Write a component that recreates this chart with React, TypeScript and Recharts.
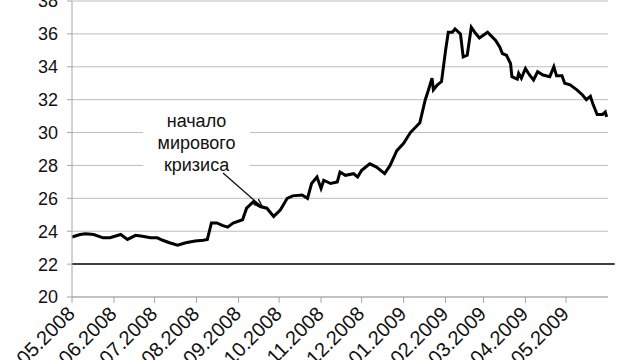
import {
  CartesianGrid,
  Line,
  LineChart,
  ReferenceArea,
  ReferenceLine,
  XAxis,
  YAxis,
} from "recharts";

// days since 01.05.2008 and the value
const dayOffsets = [
  0, 6, 10, 16, 23, 28, 36, 41, 47, 52, 58, 63, 67, 72, 78, 84, 91, 97, 100,
  103, 107, 111, 115, 119, 126, 129, 134, 139, 144, 149, 154, 159, 163, 170,
  174, 177, 181, 184, 186, 191, 196, 198, 202, 208, 211, 214, 220, 225, 231,
  235, 240, 245, 250, 257, 261, 263, 266, 267, 270, 273, 276, 278, 281, 283,
  287, 289, 292, 295, 298, 301, 307, 313, 316, 318, 321, 324, 325, 329, 330,
  332, 335, 338, 341, 344, 348, 353, 356, 358, 362, 364, 368, 373, 377, 380,
  383, 385, 388, 392, 394, 395,
];
const rates = [
  23.65, 23.8, 23.85, 23.8, 23.6, 23.6, 23.8, 23.5, 23.75, 23.7, 23.6, 23.6,
  23.45, 23.3, 23.15, 23.3, 23.4, 23.45, 23.5, 24.5, 24.5, 24.35, 24.25, 24.5,
  24.7, 25.4, 25.8, 25.5, 25.4, 24.9, 25.3, 26.0, 26.15, 26.2, 26.0, 26.9,
  27.3, 26.6, 27.1, 26.9, 27.0, 27.6, 27.4, 27.5, 27.3, 27.7, 28.1, 27.9, 27.5,
  28.0, 28.9, 29.35, 30.0, 30.6, 32.0, 32.5, 33.3, 32.6, 32.9, 33.1, 35.0,
  36.1, 36.1, 36.3, 36.0, 34.6, 34.7, 36.4, 36.05, 35.75, 36.1, 35.6, 35.2,
  34.8, 34.7, 34.2, 33.4, 33.25, 33.6, 33.3, 33.9, 33.5, 33.2, 33.7, 33.5,
  33.4, 34.0, 33.45, 33.45, 33.0, 32.9, 32.6, 32.3, 32.0, 32.2, 31.7, 31.1,
  31.1, 31.25, 30.95,
];

const monthTicks = [0, 31, 61, 92, 123, 153, 184, 214, 245, 276, 304, 335, 365];
const monthLabels = [
  "01.05.2008", "01.06.2008", "01.07.2008", "01.08.2008", "01.09.2008",
  "01.10.2008", "01.11.2008", "01.12.2008", "01.01.2009", "01.02.2009",
  "01.03.2009", "01.04.2009", "01.05.2009",
];
const yTicks = [20, 22, 24, 26, 28, 30, 32, 34, 36, 38];
const noteLines = ["начало", "мирового", "кризиса"];

const data = dayOffsets.map((d, i) => ({ day: d, rate: rates[i] }));

const FONT = "'Liberation Sans', Arial, sans-serif";

function DateTick(props: any) {
  const { x, y, payload } = props;
  const i = monthTicks.indexOf(payload.value);
  const ax = x + 4;
  const ay = y + 10;
  return (
    <text
      x={ax}
      y={ay}
      transform={`rotate(-45, ${ax}, ${ay})`}
      textAnchor="end"
      fontSize={20}
      fontFamily={FONT}
      fill="#111"
    >
      {monthLabels[i]}
    </text>
  );
}

function NoteLabel(props: any) {
  const { viewBox } = props;
  const cx = viewBox.x + viewBox.width / 2;
  return (
    <text textAnchor="middle" fontSize={18} fontFamily={FONT} fill="#111">
      {noteLines.map((s, i) => (
        <tspan key={s} x={cx} y={viewBox.y + 19 + i * 22}>
          {s}
        </tspan>
      ))}
    </text>
  );
}

function ArrowShape(props: any) {
  const { x1, y1, x2, y2 } = props;
  return (
    <g>
      <defs>
        <marker id="noteArrow" viewBox="0 0 10 10" refX="9" refY="5" markerWidth="7" markerHeight="7" orient="auto">
          <path d="M0,1 L10,5 L0,9" fill="none" stroke="#111" strokeWidth={1.5} />
        </marker>
      </defs>
      <line x1={x1} y1={y1} x2={x2} y2={y2} stroke="#111" strokeWidth={1.3} markerEnd="url(#noteArrow)" />
    </g>
  );
}

export default function App() {
  return (
    <div style={{ position: "absolute", left: 0, top: 0, width: 640, height: 360, background: "#fff" }}>
      <LineChart width={640} height={360} data={data} margin={{ top: 1, right: 32, bottom: 0, left: 0 }}>
        <CartesianGrid stroke="#bdbdbd" strokeWidth={1} vertical={false} />
        <XAxis
          dataKey="day"
          type="number"
          domain={[0, 396]}
          ticks={monthTicks}
          interval={0}
          tick={<DateTick />}
          height={63}
          axisLine={{ stroke: "#a6a6a6" }}
          tickLine={{ stroke: "#a6a6a6" }}
          tickSize={6}
        />
        <YAxis
          type="number"
          domain={[20, 38]}
          ticks={yTicks}
          interval={0}
          width={72}
          tick={{ fill: "#111", fontSize: 18, fontFamily: FONT }}
          axisLine={{ stroke: "#a6a6a6" }}
          tickLine={{ stroke: "#a6a6a6" }}
          tickSize={5}
          tickMargin={9}
        />
        <ReferenceArea
          x1={52.5}
          x2={131.5}
          y1={27.2}
          y2={31.5}
          fill="#fff"
          fillOpacity={1}
          stroke="none"
          label={<NoteLabel />}
        />
        <ReferenceLine
          segment={[{ x: 0, y: 22 }, { x: 401, y: 22 }]}
          stroke="#404040"
          strokeWidth={2}
          ifOverflow="visible"
        />
        <ReferenceLine
          segment={[{ x: 111.6, y: 27.54 }, { x: 140.4, y: 25.47 }]}
          shape={<ArrowShape />}
          ifOverflow="visible"
        />
        <Line
          type="linear"
          dataKey="rate"
          stroke="#000"
          strokeWidth={3}
          dot={false}
          isAnimationActive={false}
        />
      </LineChart>
    </div>
  );
}
